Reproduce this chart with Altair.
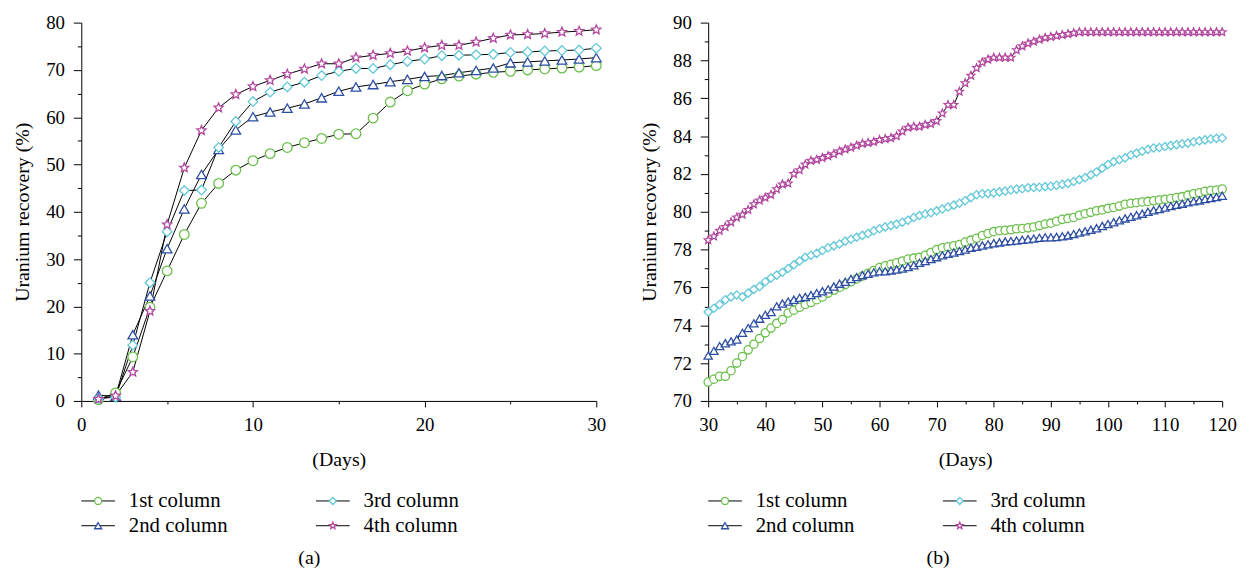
import altair as alt
import pandas as pd

# ---------------- data ----------------
names = ["1st column", "2nd column", "3rd column", "4th column"]
colors = ["#6abf4b", "#2d4ea3", "#62c8d8", "#b2479f"]
STAR = ("M0,-1L0.265,-0.364L0.951,-0.309L0.428,0.139L0.588,0.809L0,0.45"
        "L-0.588,0.809L-0.428,0.139L-0.951,-0.309L-0.265,-0.364Z")
shapes = ["circle", "triangle-up", "diamond", STAR]

# panel (a): days 1-30
days_a = list(range(1, 31))
a_col1 = [0.3, 1.7, 9.3, 19.8, 27.5, 35.2, 41.8, 46.0, 48.8, 50.8,
          52.3, 53.6, 54.6, 55.5, 56.4, 56.5, 59.8, 63.2, 65.6, 67.0,
          68.1, 68.7, 69.1, 69.5, 69.7, 70.0, 70.2, 70.4, 70.6, 70.9]
a_col2 = [1.2, 1.0, 14.0, 22.2, 32.2, 40.6, 47.9, 53.2, 57.3, 60.1,
          61.1, 61.9, 62.8, 64.1, 65.5, 66.4, 66.9, 67.5, 68.0, 68.6,
          68.8, 69.4, 69.9, 70.4, 71.5, 71.7, 71.9, 72.1, 72.3, 72.6]
a_col3 = [0.5, 0.8, 11.8, 25.0, 35.8, 44.5, 44.6, 53.6, 59.1, 63.3,
          65.3, 66.4, 67.4, 68.8, 69.7, 70.3, 70.3, 71.1, 71.8, 72.3,
          73.0, 73.1, 73.2, 73.3, 73.7, 73.8, 74.0, 74.1, 74.2, 74.6]
a_col4 = [0.4, 1.1, 6.1, 19.0, 37.3, 49.3, 57.2, 62.0, 64.8, 66.5,
          67.8, 69.1, 70.2, 71.3, 71.3, 72.6, 73.1, 73.5, 74.0, 74.7,
          75.2, 75.2, 75.9, 76.7, 77.4, 77.5, 77.7, 78.0, 78.2, 78.5]

# panel (b): days 30-120
days_b = list(range(30, 121))
b_col1 = [71.0, 71.15, 71.3, 71.3, 71.6, 72.0, 72.35, 72.7, 73.0, 73.3,
          73.6, 73.85, 74.1, 74.3, 74.65, 74.8, 74.95, 75.1, 75.2, 75.35,
          75.5, 75.7, 75.85, 76.0, 76.15, 76.3, 76.45, 76.6, 76.75, 76.9,
          77.05, 77.15, 77.22, 77.3, 77.4, 77.5, 77.55, 77.6, 77.7, 77.85,
          78.0, 78.1, 78.15, 78.2, 78.27, 78.4, 78.5, 78.6, 78.75, 78.85,
          78.95, 79.0, 79.02, 79.05, 79.1, 79.12, 79.15, 79.2, 79.27, 79.35,
          79.4, 79.5, 79.6, 79.65, 79.7, 79.82, 79.9, 79.97, 80.05, 80.1,
          80.18, 80.23, 80.3, 80.4, 80.45, 80.48, 80.52, 80.55, 80.58, 80.62,
          80.66, 80.7, 80.75, 80.8, 80.88, 80.95, 81.0, 81.08, 81.12, 81.15,
          81.2]
b_col2 = [72.4, 72.65, 72.9, 73.05, 73.15, 73.25, 73.6, 73.85, 74.1, 74.35,
          74.55, 74.7, 75.0, 75.15, 75.25, 75.35, 75.45, 75.5, 75.6, 75.7,
          75.8, 75.9, 76.05, 76.2, 76.3, 76.45, 76.55, 76.65, 76.72, 76.8,
          76.85, 76.85, 76.9, 76.95, 77.0, 77.08, 77.17, 77.3, 77.4, 77.5,
          77.6, 77.7, 77.78, 77.85, 77.92, 78.0, 78.1, 78.15, 78.22, 78.28,
          78.34, 78.38, 78.43, 78.45, 78.48, 78.52, 78.55, 78.58, 78.62, 78.65,
          78.65, 78.67, 78.7, 78.75, 78.82, 78.9, 78.97, 79.05, 79.13, 79.25,
          79.35, 79.45, 79.55, 79.65, 79.73, 79.82, 79.9, 80.0, 80.08, 80.15,
          80.22, 80.3, 80.37, 80.43, 80.5, 80.55, 80.6, 80.67, 80.73, 80.78,
          80.85]
b_col3 = [74.7, 74.9, 75.1, 75.35, 75.5, 75.6, 75.5, 75.7, 75.9, 76.05,
          76.3, 76.5, 76.65, 76.8, 77.0, 77.2, 77.4, 77.6, 77.7, 77.8,
          77.95, 78.1, 78.2, 78.3, 78.45, 78.55, 78.65, 78.75, 78.85, 79.0,
          79.1, 79.2, 79.27, 79.35, 79.45, 79.55, 79.7, 79.8, 79.88, 79.95,
          80.05, 80.15, 80.25, 80.35, 80.45, 80.58, 80.75, 80.9, 80.95, 80.97,
          81.0, 81.05, 81.1, 81.15, 81.2, 81.22, 81.27, 81.28, 81.3, 81.33,
          81.35, 81.4, 81.45, 81.5, 81.6, 81.7, 81.8, 81.95, 82.1, 82.3,
          82.5, 82.65, 82.75, 82.85, 83.0, 83.1, 83.2, 83.3, 83.37, 83.4,
          83.45, 83.5, 83.55, 83.6, 83.63, 83.7, 83.75, 83.8, 83.85, 83.88,
          83.9]
b_col4 = [78.5, 78.7, 79.0, 79.2, 79.45, 79.7, 79.85, 80.1, 80.4, 80.6,
          80.75, 80.9, 81.2, 81.45, 81.5, 82.0, 82.2, 82.5, 82.7, 82.75,
          82.85, 82.95, 83.05, 83.2, 83.3, 83.4, 83.5, 83.6, 83.65, 83.7,
          83.8, 83.85, 83.9, 84.0, 84.25, 84.45, 84.5, 84.5, 84.6, 84.65,
          84.8, 85.2, 85.65, 85.65, 86.35, 86.8, 87.2, 87.6, 87.9, 88.05,
          88.15, 88.15, 88.15, 88.15, 88.55, 88.75, 88.9, 89.0, 89.1, 89.2,
          89.25, 89.3, 89.35, 89.4, 89.45, 89.5, 89.5, 89.5, 89.5, 89.5,
          89.5, 89.5, 89.5, 89.5, 89.5, 89.5, 89.5, 89.5, 89.5, 89.5,
          89.5, 89.5, 89.5, 89.5, 89.5, 89.5, 89.5, 89.5, 89.5, 89.5,
          89.5]

FONT = "Liberation Serif"
NOVIEW = alt.ViewConfig(stroke="transparent", strokeWidth=0)


def long_df(days, series):
    rows = []
    for name, vals in zip(names, series):
        for d, v in zip(days, vals):
            rows.append({"day": d, "value": v, "series": name})
    return pd.DataFrame(rows)


def axis_major(values, tick, title, orient, pad, tpad):
    return alt.Axis(values=values, tickSize=tick, title=title, orient=orient,
                    grid=False, domainColor="black", tickColor="black",
                    labelColor="black", labelFont=FONT, labelFontSize=19,
                    labelPadding=pad, titleFont=FONT, titleFontSize=20,
                    titleFontWeight="normal", titleColor="black",
                    titlePadding=tpad, labelFlush=False, labelOverlap=False)


def axis_minor(values, tick, orient):
    return alt.Axis(values=values, tickSize=tick, title=None, orient=orient,
                    labels=False, domain=False, grid=False, tickColor="black")


def panel(df, xdom, xmaj, xmin, ydom, ymaj, ymin, w, h, msize, caption):
    xs = alt.Scale(domain=xdom, nice=False, zero=False)
    ys = alt.Scale(domain=ydom, nice=False, zero=False)
    color = alt.Color("series:N", scale=alt.Scale(domain=names, range=colors), legend=None)
    shape = alt.Shape("series:N", scale=alt.Scale(domain=names, range=shapes), legend=None)
    lines = alt.Chart(df).mark_line(color="black", strokeWidth=1).encode(
        x=alt.X("day:Q", scale=xs, axis=axis_major(xmaj, 6, "(Days)", "bottom", 9, 15)),
        y=alt.Y("value:Q", scale=ys, axis=axis_major(ymaj, 8, "Uranium recovery (%)", "left", 9, 13)),
        detail="series:N",
    )
    pts = alt.Chart(df).mark_point(filled=False, fill="white", fillOpacity=1,
                                   size=msize, strokeWidth=1.3, opacity=1).encode(
        x=alt.X("day:Q", scale=xs, axis=axis_minor(xmin, 3, "bottom")),
        y=alt.Y("value:Q", scale=ys, axis=axis_minor(ymin, 4, "left")),
        color=color, shape=shape,
    )
    main = alt.layer(lines, pts).resolve_axis(x="independent", y="independent").properties(
        width=w, height=h, view=NOVIEW)

    # legend built from the series names
    leg_rows = []
    for i, n in enumerate(names):
        c, r = i // 2, i % 2
        base = c * 237
        leg_rows.append({"series": n, "row": r, "x0": base, "x1": base + 34,
                         "xm": base + 17, "xt": base + 48})
    ldf = pd.DataFrame(leg_rows)
    lx = alt.Scale(domain=[0, w], range=[0, w])
    ly = alt.Scale(domain=[0, 1], range=[11, 36])
    lbase = alt.Chart(ldf)
    lrule = lbase.mark_rule(color="black", strokeWidth=1).encode(
        x=alt.X("x0:Q", scale=lx, axis=None), x2="x1:Q",
        y=alt.Y("row:Q", scale=ly, axis=None))
    lpt = lbase.mark_point(filled=False, fill="white", fillOpacity=1, size=50,
                           strokeWidth=1.3, opacity=1).encode(
        x=alt.X("xm:Q", scale=lx, axis=None), y=alt.Y("row:Q", scale=ly, axis=None),
        color=color, shape=shape)
    ltxt = lbase.mark_text(align="left", baseline="middle", font=FONT, fontSize=21,
                           color="black").encode(
        x=alt.X("xt:Q", scale=lx, axis=None), y=alt.Y("row:Q", scale=ly, axis=None),
        text="series:N")
    legend = alt.layer(lrule, lpt, ltxt).properties(width=w, height=46, view=NOVIEW)

    return alt.vconcat(main, legend, spacing=21).properties(
        title=alt.Title(caption, orient="bottom", anchor="middle", frame="bounds",
                        font=FONT, fontSize=20, fontWeight="normal", color="black",
                        offset=13))


df_a = long_df(days_a, [a_col1, a_col2, a_col3, a_col4])
df_b = long_df(days_b, [b_col1, b_col2, b_col3, b_col4])

pa = panel(df_a, [0, 30], [0, 10, 20, 30], [5, 15, 25], [0, 80],
           list(range(0, 81, 10)), list(range(5, 80, 10)), 520, 382, 95, "(a)")
pb = panel(df_b, [30, 120], list(range(30, 121, 10)), list(range(35, 120, 10)), [70, 90],
           list(range(70, 91, 2)), list(range(71, 90, 2)), 519, 382, 70, "(b)")

chart = alt.hconcat(pa, pb, spacing=34).configure_view(
    stroke="transparent", strokeWidth=0).configure(
    background="white", padding={"left": 5, "right": 5, "top": 3, "bottom": 5})

chart.save("out.html", embed_options={"renderer": "svg", "actions": False})
